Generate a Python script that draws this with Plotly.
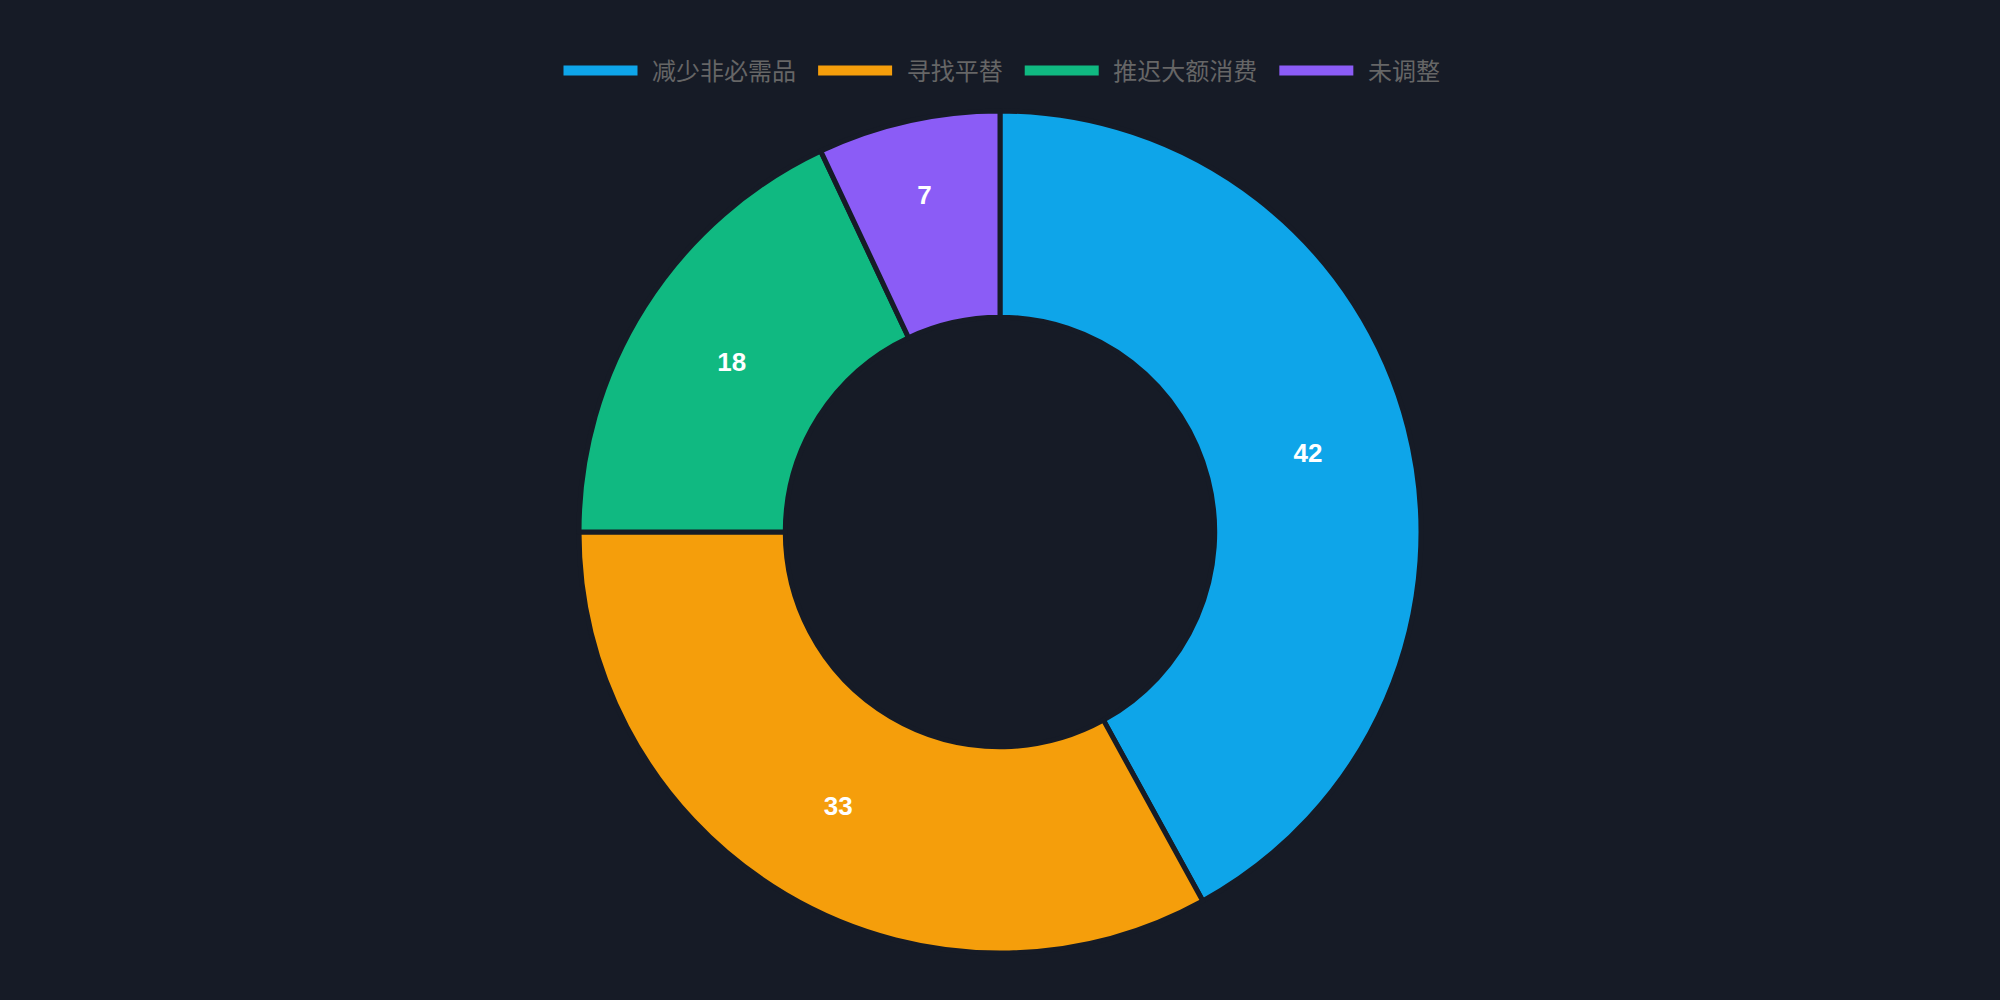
import plotly.graph_objects as go

# Data
labels = ["减少非必需品", "寻找平替", "推迟大额消费", "未调整"]
values = [42, 33, 18, 7]
colors = ["#0EA5E9", "#F59E0B", "#10B981", "#8B5CF6"]

bg = "#161B26"

fig = go.Figure()
fig.add_trace(go.Pie(
  labels=labels,
  values=values,
  hole=0.51,
  sort=False,
  direction="clockwise",
  rotation=0,
  marker=dict(colors=colors, line=dict(color=bg, width=5)),
  textinfo="value",
  textposition="inside",
  insidetextorientation="horizontal",
  textfont=dict(color="#FFFFFF", size=26, family="Liberation Sans, Arial, sans-serif", weight="bold"),
  hoverinfo="label+value+percent",
  showlegend=False,
))

# legend entries drawn as wide swatches (empty line traces)
for name, col in zip(labels, colors):
  fig.add_trace(go.Scatter(
    x=[None], y=[None],
    mode="lines",
    name="\u2009\u2009" + name + "\u2002",
    line=dict(color=col, width=18),
    hoverinfo="skip",
    showlegend=True,
  ))

fig.update_xaxes(visible=False)
fig.update_yaxes(visible=False)

fig.update_layout(
  width=2000,
  height=1000,
  paper_bgcolor=bg,
  plot_bgcolor=bg,
  margin=dict(l=0, r=0, t=111, b=47),
  font=dict(family="Liberation Sans, Noto Sans CJK SC, sans-serif"),
  showlegend=True,
  legend=dict(
    orientation="h",
    x=0.504,
    xanchor="center",
    y=0.929,
    yref="container",
    yanchor="middle",
    font=dict(size=24, color="#666666", family="Noto Sans CJK SC, sans-serif"),
    itemwidth=74,
    traceorder="normal",
  ),
)

fig.write_html("out.html", config={"displayModeBar": False},
               post_script="document.body.style.margin='0';")
